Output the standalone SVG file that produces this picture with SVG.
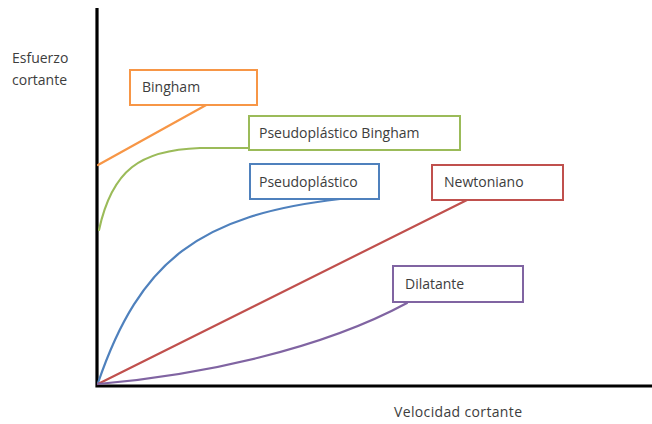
<svg xmlns="http://www.w3.org/2000/svg" width="652" height="424" viewBox="0 0 652 424">
  <style>
    text { font-family: "Open Sans", "Liberation Sans", sans-serif; font-size: 14px; fill: #3d3d3d; }
    .box { fill: #ffffff; stroke-width: 2; }
    .curve { fill: none; stroke-width: 2.2; stroke-linecap: round; }
    .axis { fill: none; stroke: #000; stroke-width: 3.2; }
  </style>

  <!-- axes -->
  <g id="axes">
    <path class="axis" d="M97,8 V386 H652"/>
    <text x="12" y="63">Esfuerzo</text>
    <text x="12" y="85">cortante</text>
    <text x="394" y="417" textLength="128">Velocidad cortante</text>
  </g>

  <!-- flow curves -->
  <g id="connectors">
    <path class="curve" stroke="#F79646" d="M98,165 L208,104"/>
    <path class="curve" stroke="#9BBB59" d="M99,230 C112,170 140,150 200,148 L249,148"/>
    <path class="curve" stroke="#4F81BD" d="M98,383 C140,260 200,215 340,199"/>
    <path class="curve" stroke="#C0504D" d="M98,384 L467,200"/>
    <path class="curve" stroke="#8064A2" d="M98,384 C200,375 320,350 407,303"/>
  </g>

  <g id="bingham">
    <rect class="box" stroke="#F79646" x="130" y="70" width="127" height="35"/>
    <text x="142" y="92">Bingham</text>
  </g>
  <g id="pseudoplastico-bingham">
    <rect class="box" stroke="#9BBB59" x="249" y="116" width="211" height="34"/>
    <text x="259" y="138">Pseudoplástico Bingham</text>
  </g>
  <g id="pseudoplastico">
    <rect class="box" stroke="#4F81BD" x="250" y="164" width="129" height="35"/>
    <text x="259" y="187">Pseudoplástico</text>
  </g>
  <g id="newtoniano">
    <rect class="box" stroke="#C0504D" x="432" y="165" width="131" height="35"/>
    <text x="444" y="187">Newtoniano</text>
  </g>
  <g id="dilatante">
    <rect class="box" stroke="#8064A2" x="393" y="266" width="130" height="36"/>
    <text x="405" y="289">Dilatante</text>
  </g>
</svg>
